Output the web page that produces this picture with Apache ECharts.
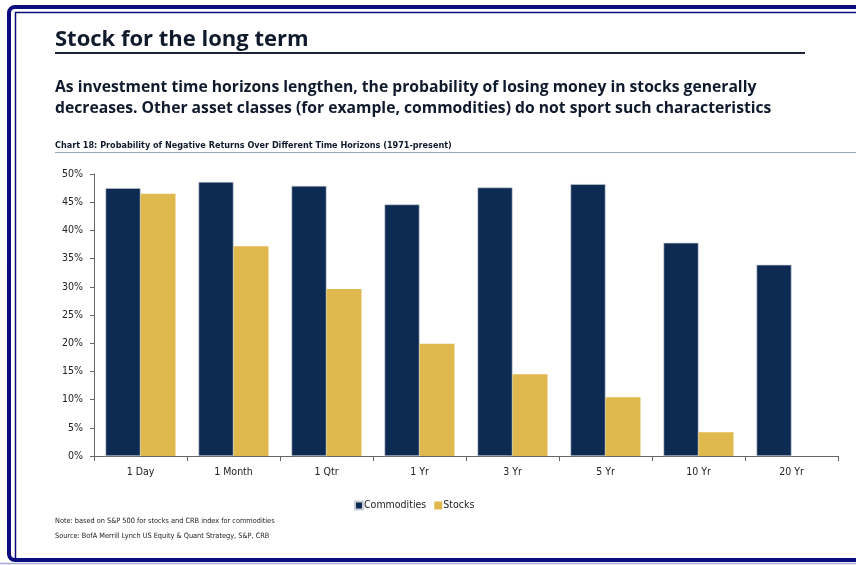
<!DOCTYPE html>
<html>
<head>
<meta charset="utf-8">
<script src="https://cdn.jsdelivr.net/npm/echarts@6/dist/echarts.min.js"></script>
<style>
  html, body { margin: 0; padding: 0; background: #fff; }
  #main { width: 856px; height: 565px; }
</style>
</head>
<body>
<div id="main"></div>
<script>
// Probability of negative returns over different time horizons
var horizons = ['1 Day', '1 Month', '1 Qtr', '1 Yr', '3 Yr', '5 Yr', '10 Yr', '20 Yr'];
var commodities = [47.5, 48.6, 47.9, 44.6, 47.6, 48.2, 37.8, 33.9];
var stocks = [46.5, 37.2, 29.6, 19.9, 14.5, 10.4, 4.2, 0];
var yTicks = [0, 5, 10, 15, 20, 25, 30, 35, 40, 45, 50];

var headFont = "'Open Sans', 'Noto Sans', sans-serif";
var axisFont = "'DejaVu Sans Condensed', 'Liberation Sans', sans-serif";

var myChart = echarts.init(document.getElementById('main'));

var option = {
	animation: false,
	backgroundColor: '#fff',
	grid: {
		left: 94,
		right: 18,
		top: 174,
		bottom: 109
	},
	legend: {
		data: ['Commodities', 'Stocks'],
		left: 349,
		top: 495,
		itemWidth: 8,
		itemHeight: 8,
		itemGap: 8,
		icon: 'rect',
		textStyle: {
			fontFamily: axisFont,
			fontSize: 10.5,
			color: '#222',
			padding: [0, 0, 0, -4]
		}
	},
	xAxis: {
		type: 'category',
		data: horizons,
		axisLine: { lineStyle: { color: '#666', width: 1 } },
		axisTick: { show: true, length: 5, lineStyle: { color: '#666' } },
		axisLabel: {
			fontFamily: axisFont,
			fontSize: 10.5,
			color: '#222',
			margin: 11
		}
	},
	yAxis: {
		type: 'value',
		min: 0,
		max: 50,
		interval: 5,
		axisLine: { show: true, lineStyle: { color: '#666', width: 1 } },
		axisTick: { show: true, length: 4, lineStyle: { color: '#666' } },
		splitLine: { show: false },
		axisLabel: {
			fontFamily: axisFont,
			fontSize: 10.5,
			color: '#222',
			margin: 11,
			formatter: function (v) { return yTicks.indexOf(v) >= 0 ? v + '%' : ''; }
		}
	},
	series: [{
		name: 'Commodities',
		type: 'bar',
		data: commodities,
		barWidth: 35,
		barGap: '0%',
		itemStyle: { color: '#0d2b52', borderColor: '#c9ced8', borderWidth: 0.6 }
	}, {
		name: 'Stocks',
		type: 'bar',
		data: stocks,
		barWidth: 35,
		itemStyle: { color: '#dfb94e' }
	}],
	graphic: [
		// outer frame
		{ type: 'rect', shape: { x: 9, y: 7, width: 900, height: 553, r: 6 }, style: { fill: 'none', stroke: '#0c0c80', lineWidth: 4 } },
		{ type: 'rect', shape: { x: 15.5, y: 12.5, width: 900, height: 547 }, style: { fill: 'none', stroke: '#0c0c80', lineWidth: 1.5 } },
		{ type: 'line', shape: { x1: 0, y1: 563.5, x2: 856, y2: 563.5 }, style: { stroke: '#a8a8dc', lineWidth: 1.5 } },
		// title
		{ type: 'text', left: 55, top: 29, style: { text: 'Stock for the long term', font: 'bold 22px ' + headFont, fill: '#0f1a2c' } },
		{ type: 'line', shape: { x1: 55, y1: 53, x2: 805, y2: 53 }, style: { stroke: '#1a2235', lineWidth: 2 } },
		{ type: 'text', left: 55, top: 77, style: { text: 'As investment time horizons lengthen, the probability of losing money in stocks generally\ndecreases. Other asset classes (for example, commodities) do not sport such characteristics', font: 'bold 15.7px ' + headFont, fill: '#0f1a2c', lineHeight: 21 } },
		{ type: 'text', left: 55, top: 141, style: { text: 'Chart 18: Probability of Negative Returns Over Different Time Horizons (1971-present)', font: 'bold 9px ' + axisFont, fill: '#0f1a2c' } },
		{ type: 'line', shape: { x1: 55, y1: 152.5, x2: 856, y2: 152.5 }, style: { stroke: '#9aa8bf', lineWidth: 1.2 } },
		// notes
		{ type: 'text', left: 55, top: 518, style: { text: 'Note: based on S&P 500 for stocks and CRB index for commodities', font: '7.3px ' + axisFont, fill: '#222' } },
		{ type: 'text', left: 55, top: 533, style: { text: 'Source: BofA Merrill Lynch US Equity & Quant Strategy, S&P, CRB', font: '7.3px ' + axisFont, fill: '#222' } }
	]
};

myChart.setOption(option);
</script>
</body>
</html>
